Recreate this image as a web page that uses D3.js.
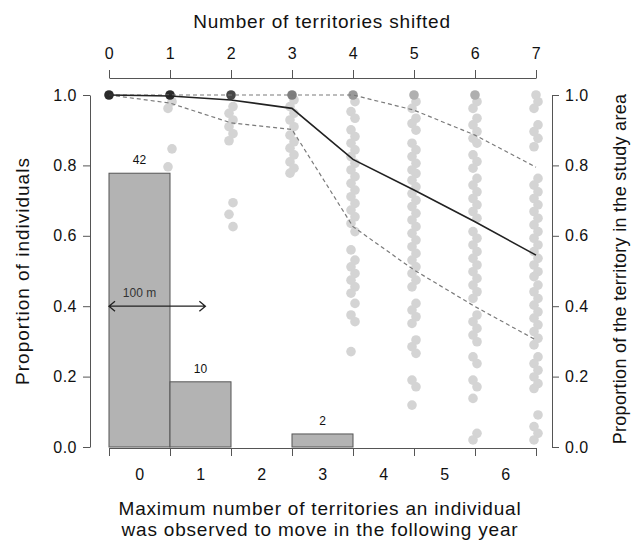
<!DOCTYPE html>
<html>
<head>
<meta charset="utf-8">
<script src="https://cdn.jsdelivr.net/npm/d3@7"></script>
<style>
  html, body { margin: 0; padding: 0; background: #fff; }
  svg { display: block; font-family: "Liberation Sans", Arial, Helvetica, sans-serif; }
</style>
</head>
<body>
<svg id="chart" width="632" height="542"></svg>
<script>
// ---------------- DATA ----------------
const shiftTicks = [0, 1, 2, 3, 4, 5, 6, 7];
const binLabels = ["0", "1", "2", "3", "4", "5", "6"];
const binCounts = [42, 10, 0, 2, 0, 0, 0];
const totalIndividuals = 54;

const meanProp  = [1.0, 0.997, 0.986, 0.962, 0.817, 0.730, 0.640, 0.545];
const upperProp = [1.0, 1.0, 1.0, 1.0, 1.0, 0.957, 0.886, 0.795];
const lowerProp = [1.0, 0.977, 0.921, 0.902, 0.626, 0.503, 0.399, 0.304];

// number of overlapping observations at proportion 1.0 for each shift
const countsAtOne = [54, 30, 14, 5, 3, 2, 2, 1];

// other observed proportions (below 1.0) for each shift
const propShift0 = [];
const propShift1 = [0.981, 0.962, 0.847, 0.796];
const propShift2 = [0.967, 0.948, 0.929, 0.910, 0.890, 0.870, 0.694, 0.661, 0.626];
const propShift3 = [0.986, 0.967, 0.948, 0.929, 0.910, 0.886, 0.867, 0.849, 0.830, 0.810, 0.792, 0.778];
const propShift4 = [0.981, 0.953, 0.934, 0.901, 0.882, 0.863, 0.844, 0.825, 0.806, 0.787, 0.768, 0.749,
                    0.730, 0.711, 0.692, 0.673, 0.654, 0.635, 0.612, 0.560, 0.531, 0.512, 0.493, 0.474,
                    0.455, 0.437, 0.408, 0.375, 0.356, 0.271];
const propShift5 = [0.981, 0.962, 0.934, 0.919, 0.900, 0.863, 0.844, 0.825, 0.806, 0.787, 0.777, 0.758,
                    0.739, 0.720, 0.701, 0.683, 0.664, 0.645, 0.626, 0.607, 0.588, 0.569, 0.550, 0.531,
                    0.512, 0.493, 0.474, 0.455, 0.408, 0.389, 0.370, 0.351, 0.304, 0.285, 0.266, 0.190,
                    0.171, 0.119];
const propShift6 = [0.981, 0.962, 0.934, 0.915, 0.896, 0.877, 0.863, 0.830, 0.811, 0.792, 0.763, 0.744,
                    0.725, 0.706, 0.688, 0.669, 0.650, 0.612, 0.593, 0.574, 0.555, 0.536, 0.517, 0.498,
                    0.479, 0.460, 0.441, 0.422, 0.375, 0.356, 0.337, 0.318, 0.299, 0.256, 0.237, 0.190,
                    0.171, 0.138, 0.039, 0.020];
const propShift7 = [0.981, 0.962, 0.915, 0.896, 0.877, 0.853, 0.763, 0.744, 0.725, 0.706, 0.688, 0.669,
                    0.650, 0.631, 0.612, 0.593, 0.574, 0.555, 0.536, 0.517, 0.498, 0.484, 0.460, 0.441,
                    0.422, 0.403, 0.384, 0.366, 0.347, 0.328, 0.309, 0.290, 0.256, 0.237, 0.218, 0.199,
                    0.180, 0.166, 0.091, 0.058, 0.039, 0.020];
const propByShift = [propShift0, propShift1, propShift2, propShift3, propShift4, propShift5, propShift6, propShift7];

const leftTicks = [0, 0.2, 0.4, 0.6, 0.8, 1.0];
const rightTicks = [0, 0.2, 0.4, 0.6, 0.8, 1.0];
const scaleBar = { from: 0, to: 1.58, y: 0.4, label: "100 m" };

// ---------------- DRAW ----------------
const svg = d3.select("#chart");
const x = d3.scaleLinear().domain([0, 7]).range([109, 536]);
const y = d3.scaleLinear().domain([0, 1]).range([447, 95]);
const axisColor = "#555";
const textColor = "#111";

function styleAxis(g) {
  g.selectAll(".domain").attr("stroke", axisColor).attr("stroke-width", 1);
  g.selectAll(".tick line").attr("stroke", axisColor).attr("stroke-width", 1);
  g.selectAll(".tick text").attr("fill", textColor).style("font-size", "16px")
    .style("letter-spacing", "0.5px")
    .style("font-family", "'Liberation Sans', Arial, sans-serif");
}

// histogram bars
const bins = binLabels.map((l, i) => ({ label: l, x0: i, x1: i + 1, count: binCounts[i], prop: binCounts[i] / totalIndividuals }));
svg.append("g").selectAll("rect").data(bins.filter(d => d.count > 0)).join("rect")
  .attr("x", d => x(d.x0)).attr("width", d => x(d.x1) - x(d.x0))
  .attr("y", d => y(d.prop)).attr("height", d => y(0) - y(d.prop))
  .attr("fill", "#b3b3b3").attr("stroke", "#555").attr("stroke-width", 1);

svg.append("g").selectAll("text").data(bins.filter(d => d.count > 0)).join("text")
  .attr("x", d => x((d.x0 + d.x1) / 2)).attr("y", d => y(d.prop) - 9)
  .attr("text-anchor", "middle").style("font-size", "12px").attr("fill", textColor)
  .text(d => d.count);

// scale bar arrow
const sbY = y(scaleBar.y);
const sbX0 = x(scaleBar.from), sbX1 = x(scaleBar.to);
svg.append("path")
  .attr("d", `M${sbX0},${sbY}H${sbX1}M${sbX0 + 6},${sbY - 5}L${sbX0},${sbY}L${sbX0 + 6},${sbY + 5}M${sbX1 - 6},${sbY - 5}L${sbX1},${sbY}L${sbX1 - 6},${sbY + 5}`)
  .attr("fill", "none").attr("stroke", "#222").attr("stroke-width", 1.3);
svg.append("text").attr("x", x(0.5)).attr("y", sbY - 9).attr("text-anchor", "middle")
  .style("font-size", "12px").attr("fill", "#333").text(scaleBar.label);

// points
const pts = [];
propByShift.forEach((arr, s) => {
  arr.slice().sort((a, b) => b - a).forEach((v, i) => pts.push({ s, v, off: (i % 2 === 0 ? 2 : -2) }));
});
svg.append("g").selectAll("circle").data(pts).join("circle")
  .attr("cx", d => x(d.s) + d.off).attr("cy", d => y(d.v)).attr("r", 4.8)
  .attr("fill", "#d4d4d4");

const darkScale = d3.scaleLog().domain([1, 24]).range(["#d4d4d4", "#2a2a2a"]).clamp(true);
svg.append("g").selectAll("circle").data(countsAtOne.map((c, s) => ({ s, c }))).join("circle")
  .attr("cx", d => x(d.s)).attr("cy", y(1)).attr("r", 4.8)
  .attr("fill", d => darkScale(d.c));

// lines
const line = d3.line().x((d, i) => x(shiftTicks[i])).y(d => y(d));
svg.append("path").datum(upperProp).attr("d", line).attr("fill", "none")
  .attr("stroke", "#7a7a7a").attr("stroke-width", 1.2).attr("stroke-dasharray", "4,3");
svg.append("path").datum(lowerProp).attr("d", line).attr("fill", "none")
  .attr("stroke", "#7a7a7a").attr("stroke-width", 1.2).attr("stroke-dasharray", "4,3");
svg.append("path").datum(meanProp).attr("d", line).attr("fill", "none")
  .attr("stroke", "#222").attr("stroke-width", 1.6);

// top axis
const gTop = svg.append("g").attr("transform", "translate(0,78)")
  .call(d3.axisTop(x).tickValues(shiftTicks).tickFormat(d3.format("d")).tickSize(8).tickSizeOuter(0).tickPadding(11));
styleAxis(gTop);

// bottom axis: ticks at bin edges, labels at bin centres
const gBot = svg.append("g").attr("transform", "translate(0,448)")
  .call(d3.axisBottom(x).tickValues(shiftTicks).tickFormat("").tickSize(8).tickSizeOuter(0));
styleAxis(gBot);
const gBotLab = svg.append("g").attr("transform", "translate(0,448)")
  .call(d3.axisBottom(x).tickValues(bins.map(b => (b.x0 + b.x1) / 2)).tickFormat((d, i) => binLabels[i]).tickSize(0).tickPadding(21));
gBotLab.select(".domain").remove();
styleAxis(gBotLab);

// left axis
const gLeft = svg.append("g").attr("transform", "translate(90,0)")
  .call(d3.axisLeft(y).tickValues(leftTicks).tickFormat(d3.format(".1f")).tickSize(7).tickSizeOuter(0).tickPadding(6));
styleAxis(gLeft);

// right axis
const gRight = svg.append("g").attr("transform", "translate(552,0)")
  .call(d3.axisRight(y).tickValues(rightTicks).tickFormat(d3.format(".1f")).tickSize(7).tickSizeOuter(0).tickPadding(6));
styleAxis(gRight);

// titles
function title(t, size, ls) {
  return svg.append("text").attr("text-anchor", "middle").style("font-size", size + "px")
    .style("letter-spacing", ls + "px").attr("fill", textColor).text(t);
}
title("Number of territories shifted", 19, 0.8).attr("x", 322).attr("y", 28);
title("Maximum number of territories an individual", 19, 0.8).attr("x", 320).attr("y", 515);
title("was observed to move in the following year", 19, 0.8).attr("x", 320).attr("y", 536);
title("Proportion of individuals", 19, 1).attr("transform", "translate(29,271) rotate(-90)");
title("Proportion of the territory in the study area", 18, 0.3).attr("transform", "translate(626,269) rotate(-90)");
</script>
</body>
</html>
